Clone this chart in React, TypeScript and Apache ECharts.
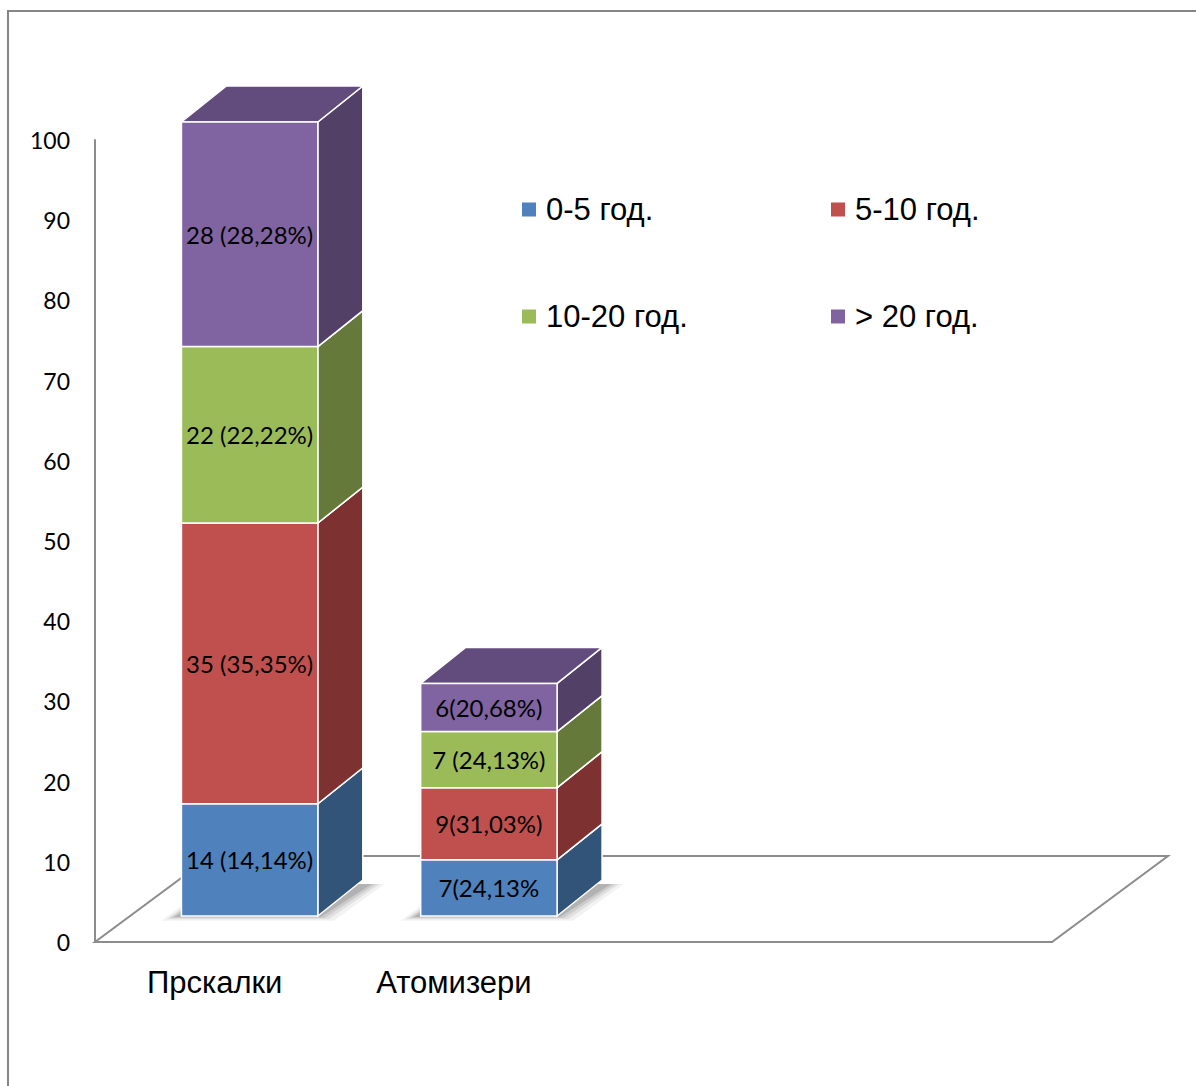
import React, { useEffect, useRef } from "react";
import * as echarts from "echarts";

const categories = ["Прскалки", "Атомизери", "", ""];
const seriesNames = ["0-5 год.", "5-10 год.", "10-20 год.", "> 20 год."];
const values0to5 = [14, 7];
const values5to10 = [35, 9];
const values10to20 = [22, 7];
const valuesOver20 = [28, 6];
const labels0to5 = ["14 (14,14%)", "7(24,13%"];
const labels5to10 = ["35 (35,35%)", "9(31,03%)"];
const labels10to20 = ["22 (22,22%)", "7 (24,13%)"];
const labelsOver20 = ["28 (28,28%)", "6(20,68%)"];
const yTicks = { min: 0, max: 100, interval: 10 };

const allValues = [values0to5, values5to10, values10to20, valuesOver20];
const allLabels = [labels0to5, labels5to10, labels10to20, labelsOver20];

const frontColors = ["#4F81BD", "#C0504D", "#9BBB59", "#8064A2"];
const sideColors = ["#335479", "#7D3231", "#657A3A", "#524066"];
const topColors = ["#3E6696", "#9A3F3D", "#7D9748", "#624C7D"];

const BAR_RATIO = 0.57;
const SHIFT_X = 35;
const SHIFT_Y = 26;
const DX = 45;
const DY = 36;
const FLOOR_DX = 116;
const FLOOR_DY = 86;

export default function App() {
  const ref = useRef<HTMLDivElement>(null);
  useEffect(() => {
    if (!ref.current) return;
    const chart = echarts.init(ref.current, null, { renderer: "svg" });

    const barSeries = allValues.map((vals, si) => {
      const data = vals.map((v, ci) => {
        let base = 0;
        for (let k = 0; k < si; k++) base += allValues[k][ci];
        return [ci, base, base + v];
      });
      return {
        type: "custom",
        name: seriesNames[si],
        itemStyle: { color: frontColors[si] },
        encode: { x: 0, y: 2 },
        data,
        z: 3,
        renderItem: (params: any, api: any) => {
          const cat = api.value(0);
          const base = api.value(1);
          const top = api.value(2);
          const pB = api.coord([cat, base]);
          const pT = api.coord([cat, top]);
          const w = api.size([1, 0])[0] * BAR_RATIO;
          const x0 = pB[0] + SHIFT_X - w / 2;
          const x1 = x0 + w;
          const yb = pB[1] - SHIFT_Y;
          const yt = pT[1] - SHIFT_Y;
          const children: any[] = [];
          if (base === 0) {
            const layers = [
              { g: 16, a: 0.05 },
              { g: 11, a: 0.07 },
              { g: 7, a: 0.09 },
              { g: 3, a: 0.12 },
            ];
            layers.forEach((l) => {
              children.push({
                type: "polygon",
                shape: {
                  points: [
                    [x0 - l.g - 4, yb + l.g * 0.3],
                    [x1 + l.g, yb + l.g * 0.3],
                    [x1 + DX + l.g + 6, yb - DY + 4],
                    [x0 + DX - l.g, yb - DY + 4],
                  ],
                },
                style: { fill: `rgba(0,0,0,${l.a})` },
              });
            });
          }
          children.push({
            type: "polygon",
            shape: {
              points: [
                [x1, yb],
                [x1 + DX, yb - DY],
                [x1 + DX, yt - DY],
                [x1, yt],
              ],
            },
            style: { fill: sideColors[si], stroke: "#ffffff", lineWidth: 1.5 },
          });
          children.push({
            type: "polygon",
            shape: {
              points: [
                [x0, yt],
                [x1, yt],
                [x1 + DX, yt - DY],
                [x0 + DX, yt - DY],
              ],
            },
            style: { fill: topColors[si], stroke: "#ffffff", lineWidth: 1.5 },
          });
          children.push({
            type: "rect",
            shape: { x: x0, y: yt, width: w, height: yb - yt },
            style: { fill: frontColors[si], stroke: "#ffffff", lineWidth: 1.5 },
          });
          children.push({
            type: "text",
            style: {
              x: (x0 + x1) / 2,
              y: (yb + yt) / 2,
              text: allLabels[si][params.dataIndex],
              align: "center",
              verticalAlign: "middle",
              fill: "#000000",
              font: "24px Lato",
            },
          });
          return { type: "group", children };
        },
      };
    });

    const floorSeries = {
      type: "custom",
      name: "floor",
      data: [[0, 0]],
      encode: { x: 0, y: 1 },
      z: 1,
      silent: true,
      renderItem: (params: any) => {
        const cs = params.coordSys;
        const bl = [cs.x, cs.y + cs.height];
        const br = [cs.x + cs.width, cs.y + cs.height];
        return {
          type: "polygon",
          shape: {
            points: [
              bl,
              br,
              [br[0] + FLOOR_DX, br[1] - FLOOR_DY],
              [bl[0] + FLOOR_DX, bl[1] - FLOOR_DY],
            ],
          },
          style: { fill: "none", stroke: "#8C8C8C", lineWidth: 2 },
        };
      },
    };

    const legendBase = {
      icon: "rect",
      itemWidth: 14,
      itemHeight: 14,
      itemGap: 0,
      padding: 0,
      selectedMode: false,
      textStyle: {
        fontSize: 31,
        fontFamily: "Liberation Sans",
        color: "#000000",
        padding: [0, 0, 0, 5],
      },
    };

    chart.setOption({
      animation: false,
      backgroundColor: "#ffffff",
      graphic: [
        {
          type: "rect",
          shape: { x: 8, y: 11, width: 1300, height: 1200 },
          style: { fill: "none", stroke: "#868686", lineWidth: 2 },
          silent: true,
        },
      ],
      legend: [
        { ...legendBase, data: [seriesNames[0]], left: 522, top: 194 },
        { ...legendBase, data: [seriesNames[1]], left: 831, top: 194 },
        { ...legendBase, data: [seriesNames[2]], left: 522, top: 301 },
        { ...legendBase, data: [seriesNames[3]], left: 831, top: 301 },
      ],
      grid: { left: 95, right: 144, top: 140, bottom: 144 },
      xAxis: {
        type: "category",
        data: categories,
        boundaryGap: true,
        axisLine: { show: true, lineStyle: { color: "#8C8C8C", width: 2 } },
        axisTick: { show: false },
        axisLabel: {
          fontSize: 31,
          fontFamily: "Liberation Sans",
          color: "#000000",
          margin: 25,
        },
        splitLine: { show: false },
      },
      yAxis: {
        type: "value",
        min: yTicks.min,
        max: yTicks.max,
        interval: yTicks.interval,
        axisLine: { show: true, lineStyle: { color: "#8C8C8C", width: 2 } },
        axisTick: { show: false },
        splitLine: { show: false },
        axisLabel: {
          fontSize: 23,
          fontFamily: "Lato",
          color: "#000000",
          margin: 25,
        },
      },
      series: [floorSeries, ...barSeries],
    });
    return () => chart.dispose();
  }, []);
  return (
    <div
      ref={ref}
      style={{ position: "fixed", left: 0, top: 0, width: 1196, height: 1086 }}
    />
  );
}
